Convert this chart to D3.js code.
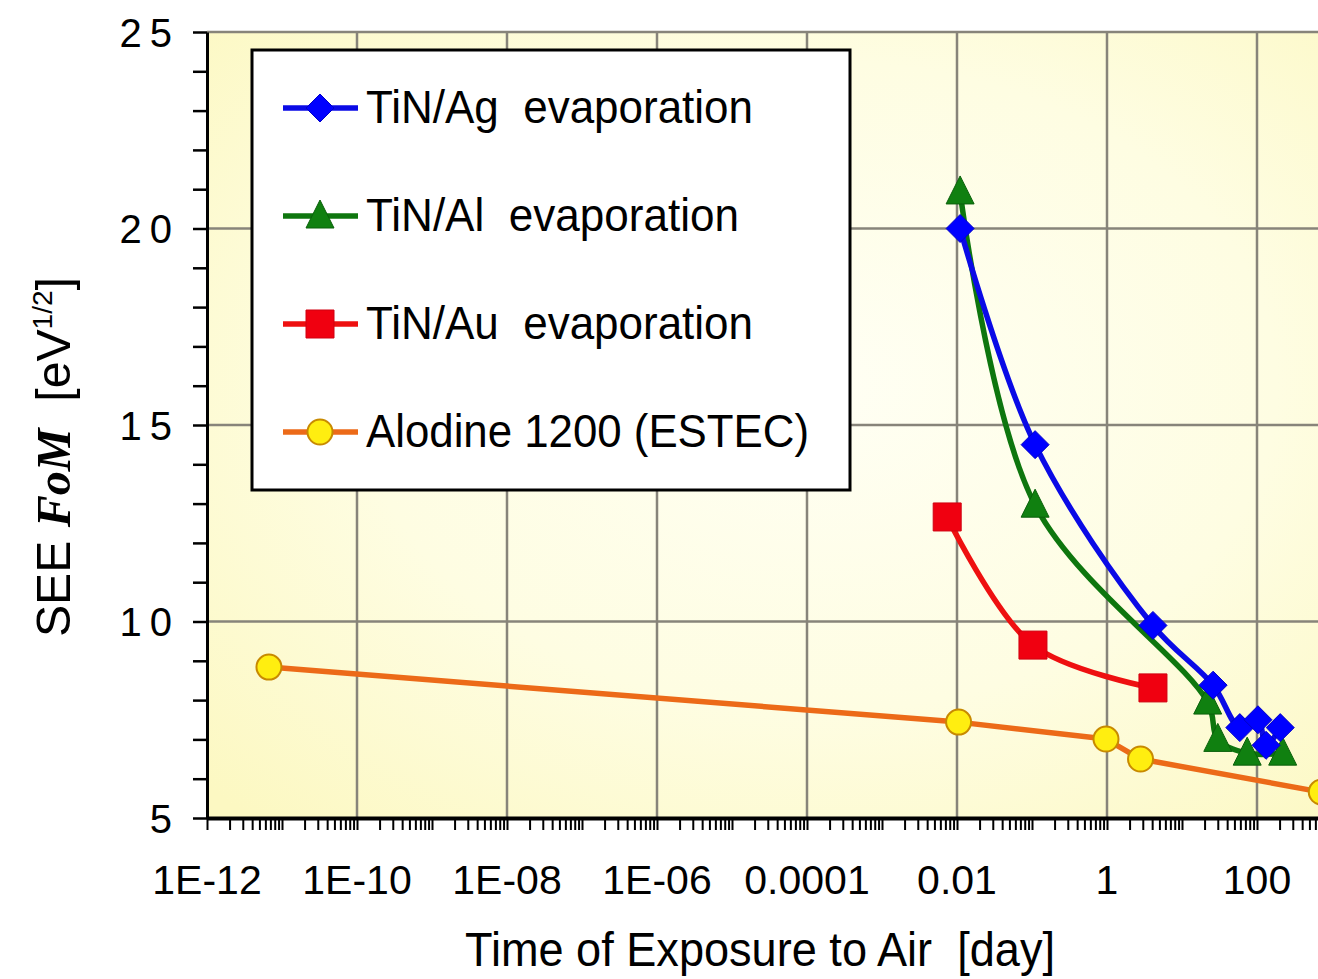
<!DOCTYPE html>
<html>
<head>
<meta charset="utf-8">
<script src="https://cdn.jsdelivr.net/npm/d3@7"></script>
<style>
  html, body { margin: 0; padding: 0; background: #ffffff; }
  svg { display: block; }
  text { font-family: "Liberation Sans", Arial, sans-serif; fill: #000; white-space: pre; }
</style>
</head>
<body>
<svg id="chart" width="1318" height="979"></svg>
<script>
// Series (time in days, SEE FoM in eV^1/2)
const agTime = [0.011, 0.11, 4.1, 26, 59, 103, 132, 204];
const agFoM = [20.0, 14.5, 9.9, 8.38, 7.3, 7.5, 6.85, 7.3];

const alTime = [0.011, 0.11, 22, 30, 74, 220];
const alFoM = [20.93, 12.96, 7.95, 7.0, 6.65, 6.65];

const auTime = [0.0074, 0.103, 4.1];
const auFoM = [12.66, 9.4, 8.31];

const alodTime = [6.7e-12, 0.0105, 0.97, 2.8, 720];
const alodFoM = [8.84, 7.44, 7.01, 6.5, 5.66];

const seriesNames = ['TiN/Ag  evaporation', 'TiN/Al  evaporation', 'TiN/Au  evaporation', 'Alodine 1200 (ESTEC)'];

// Axis ticks
const xTickValues = [1e-12, 1e-10, 1e-8, 1e-6, 1e-4, 1e-2, 1, 100];
const xTickLabels = ['1E-12', '1E-10', '1E-08', '1E-06', '0.0001', '0.01', '1', '100'];
const yTickValues = [5, 10, 15, 20, 25];

const svg = d3.select('#chart');

const plot = { left: 207, top: 32, bottom: 818 };
const xScale = d3.scaleLog().domain([1e-12, 1e3]).range([plot.left, 1332]);
const yScale = d3.scaleLinear().domain([5, 25]).range([plot.bottom, plot.top]);

// Fondo del área de trazado
const defs = svg.append('defs');
const grad = defs.append('radialGradient')
  .attr('id', 'bgGrad')
  .attr('cx', '55%').attr('cy', '45%').attr('r', '75%');
grad.append('stop').attr('offset', '0%').attr('stop-color', '#fffff4');
grad.append('stop').attr('offset', '55%').attr('stop-color', '#fefde2');
grad.append('stop').attr('offset', '100%').attr('stop-color', '#fcf8c2');

defs.append('clipPath').attr('id', 'plotClip')
  .append('rect')
  .attr('x', plot.left).attr('y', plot.top - 20)
  .attr('width', 1318 - plot.left + 40).attr('height', plot.bottom - plot.top + 20);

svg.append('rect')
  .attr('x', plot.left).attr('y', plot.top)
  .attr('width', 1318 - plot.left).attr('height', plot.bottom - plot.top)
  .attr('fill', 'url(#bgGrad)');

// Grid
const grid = svg.append('g').attr('stroke', '#87847a').attr('stroke-width', 2.5);
grid.selectAll('.vgrid')
  .data(xTickValues.slice(1))
  .enter().append('line')
  .attr('x1', d => xScale(d)).attr('x2', d => xScale(d))
  .attr('y1', plot.top).attr('y2', plot.bottom);
grid.selectAll('.hgrid')
  .data(yTickValues.slice(1))
  .enter().append('line')
  .attr('x1', plot.left).attr('x2', 1318)
  .attr('y1', d => yScale(d)).attr('y2', d => yScale(d));

// Series
const series = [
  { name: seriesNames[0], time: agTime, fom: agFoM, line: '#0a0ae6', fill: '#0000ff', stroke: '#0000c8', shape: 'diamond', curve: d3.curveCatmullRom.alpha(0.5) },
  { name: seriesNames[1], time: alTime, fom: alFoM, line: '#0e760e', fill: '#108010', stroke: '#0a600a', shape: 'triangle', curve: d3.curveCatmullRom.alpha(0.5) },
  { name: seriesNames[2], time: auTime, fom: auFoM, line: '#ee1010', fill: '#f00010', stroke: '#d00010', shape: 'square', curve: d3.curveCatmullRom.alpha(0.5) },
  { name: seriesNames[3], time: alodTime, fom: alodFoM, line: '#ec6a18', fill: '#ffee10', stroke: '#c88a00', shape: 'circle', curve: d3.curveLinear }
];

function markerPath(shape) {
  if (shape === 'diamond') return 'M0,-14L14,0L0,14L-14,0Z';
  if (shape === 'triangle') return 'M0,-16L14,12L-14,12Z';
  if (shape === 'square') return 'M-14,-14H14V14H-14Z';
  return d3.symbol().type(d3.symbolCircle).size(Math.PI * 12.5 * 12.5)();
}

const dataLayer = svg.append('g').attr('clip-path', 'url(#plotClip)');

// draw Alodine first so the TiN curves sit on top
[3, 2, 1, 0].forEach(i => {
  const s = series[i];
  const pts = s.time.map((t, j) => [t, s.fom[j]]);
  const lineGen = d3.line()
    .x(d => xScale(d[0]))
    .y(d => yScale(d[1]))
    .curve(s.curve);
  dataLayer.append('path')
    .attr('d', lineGen(pts))
    .attr('fill', 'none')
    .attr('stroke', s.line)
    .attr('stroke-width', 5.5)
    .attr('stroke-linejoin', 'round');
  dataLayer.selectAll('.m' + i)
    .data(pts)
    .enter().append('path')
    .attr('transform', d => `translate(${xScale(d[0])},${yScale(d[1])})`)
    .attr('d', markerPath(s.shape))
    .attr('fill', s.fill)
    .attr('stroke', s.stroke)
    .attr('stroke-width', s.shape === 'circle' ? 2 : 1);
});

// Eje Y
const yAxis = svg.append('g')
  .attr('transform', `translate(${plot.left},0)`)
  .call(d3.axisLeft(yScale)
    .tickValues(d3.range(5, 26, 1))
    .tickSize(14)
    .tickSizeOuter(0)
    .tickFormat(d => (d % 5 === 0 ? d : '')));
yAxis.select('.domain').attr('stroke', '#000').attr('stroke-width', 3);
yAxis.selectAll('.tick line').attr('stroke', '#000').attr('stroke-width', 2.5);
yAxis.selectAll('.tick text')
  .attr('x', -27)
  .attr('dy', '0.36em')
  .style('font-family', '"Liberation Sans", Arial, sans-serif')
  .style('font-size', '40px')
  .style('letter-spacing', '8px')
  .attr('fill', '#000');

// Eje X: marcas menores logarítmicas
const minorTicks = [];
for (let e = -12; e <= 2; e++) {
  for (let k = 1; k <= 9; k++) minorTicks.push(k * Math.pow(10, e));
}
const xAxis = svg.append('g')
  .attr('transform', `translate(0,${plot.bottom})`)
  .call(d3.axisBottom(xScale)
    .tickValues(minorTicks)
    .tickSize(12)
    .tickSizeOuter(0)
    .tickFormat(''));
xAxis.select('.domain').attr('stroke', '#000').attr('stroke-width', 4);
xAxis.selectAll('.tick line').attr('stroke', '#000').attr('stroke-width', 2);

svg.append('g').selectAll('text')
  .data(xTickValues)
  .enter().append('text')
  .attr('x', d => xScale(d))
  .attr('y', 894)
  .attr('text-anchor', 'middle')
  .style('font-size', '41px')
  .text((d, i) => xTickLabels[i]);

// Títulos de ejes
svg.append('text')
  .attr('x', 760)
  .attr('y', 966)
  .attr('text-anchor', 'middle')
  .attr('textLength', 590)
  .attr('lengthAdjust', 'spacingAndGlyphs')
  .style('font-size', '48px')
  .text('Time of Exposure to Air  [day]');

const yTitle = svg.append('text')
  .attr('transform', 'translate(70,457) rotate(-90)')
  .attr('text-anchor', 'middle')
  .attr('textLength', 360)
  .attr('lengthAdjust', 'spacingAndGlyphs')
  .style('font-size', '48px');
yTitle.append('tspan').text('SEE ');
yTitle.append('tspan')
  .style('font-family', '"Liberation Serif", "Times New Roman", serif')
  .style('font-weight', 'bold')
  .style('font-style', 'italic')
  .text('FoM');
yTitle.append('tspan').text('  [eV');
yTitle.append('tspan').attr('dy', -18).style('font-size', '28px').text('1/2');
yTitle.append('tspan').attr('dy', 18).text(']');

// Leyenda
const legend = svg.append('g');
legend.append('rect')
  .attr('x', 252).attr('y', 50)
  .attr('width', 598).attr('height', 440)
  .attr('fill', '#ffffff')
  .attr('stroke', '#000')
  .attr('stroke-width', 3);

const legendY = [108, 216, 324, 432];
const legendLen = [387, 373, 387, 443];
series.forEach((s, i) => {
  const row = legend.append('g').attr('transform', `translate(0,${legendY[i]})`);
  row.append('line')
    .attr('x1', 283).attr('x2', 358)
    .attr('y1', 0).attr('y2', 0)
    .attr('stroke', s.line)
    .attr('stroke-width', 5.5);
  row.append('path')
    .attr('transform', 'translate(320,0)')
    .attr('d', markerPath(s.shape))
    .attr('fill', s.fill)
    .attr('stroke', s.stroke)
    .attr('stroke-width', s.shape === 'circle' ? 2 : 1);
  row.append('text')
    .attr('x', 366)
    .attr('y', 15)
    .attr('textLength', legendLen[i])
    .attr('lengthAdjust', 'spacingAndGlyphs')
    .style('font-size', '46px')
    .text(s.name);
});
</script>
</body>
</html>
